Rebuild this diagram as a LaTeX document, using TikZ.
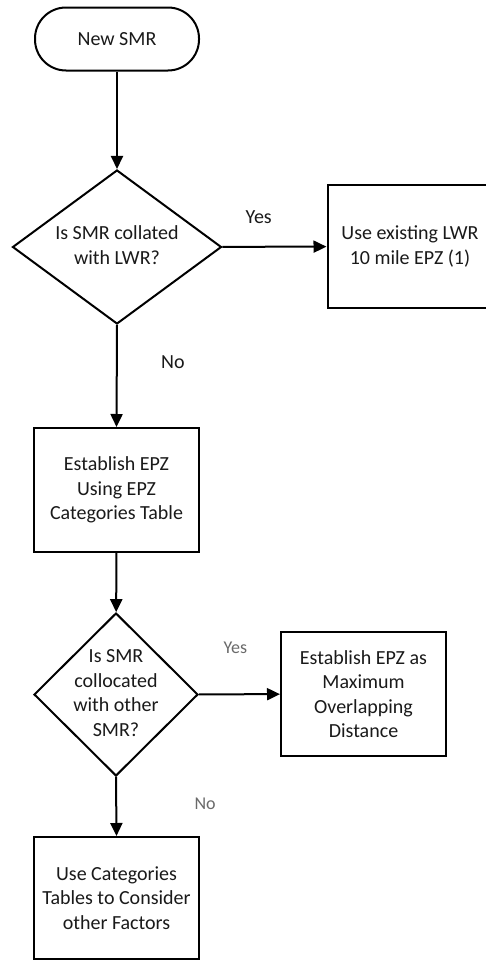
\documentclass[tikz,border=0pt]{standalone}
\usepackage{fontspec}
\setmainfont{Carlito}
\usetikzlibrary{shapes.geometric,arrows.meta}
\definecolor{txt}{HTML}{1A1A1A}
\definecolor{lbl}{HTML}{6A6A6A}
\begin{document}
\begin{tikzpicture}[x=1pt,y=-1pt,
  every node/.style={font=\fontsize{20}{24.5}\selectfont, text=txt},
  term/.style={draw, line width=2pt, rounded corners=31pt, minimum width=164pt, minimum height=63pt, inner sep=0pt},
  procbox/.style={draw, line width=2pt, minimum width=165pt, minimum height=124pt, inner sep=0pt, align=center},
  decide/.style={draw, diamond, line width=2pt, inner sep=0pt},
  txtnode/.style={align=center, inner sep=0pt},
  conn/.style={line width=2pt, -{Triangle[width=12pt,length=13pt]}},
  dark/.style={text=txt},
  light/.style={text=lbl}
]
\clip (0,0) rectangle (486,961);
\fill[white] (0,0) rectangle (486,961);

\node[term] (start) at (117,39) {New SMR};

\node[decide, minimum width=209pt, minimum height=154pt] (d1) at (117,247) {};
\node[txtnode] (d1t) at (117,245) {Is SMR collated\\with LWR?};

\node[procbox, minimum height=123pt] (b1) at (410,246.5) {Use existing LWR\\10 mile EPZ (1)};

\node[procbox] (b2) at (116.5,490) {Establish EPZ\\Using EPZ\\Categories Table};

\node[decide, minimum width=164pt, minimum height=163pt] (d2) at (116,694.5) {};
\node[txtnode] (d2t) at (116,693) {Is SMR\\collocated\\with other\\SMR?};

\node[procbox] (b3) at (363.5,694) {Establish EPZ as\\Maximum\\Overlapping\\Distance};

\node[procbox, minimum height=122pt] (b4) at (116.5,898) {Use Categories\\Tables to Consider\\other Factors};

\draw[conn] (start) -- (d1);
\draw[conn] (d1) -- node[pos=0.35, above=19pt, dark] (yes1) {Yes} (b1);
\draw[conn] (d1.south) -- node[pos=0.36, right=40pt, dark] (no1) {No} (b2.north);
\draw[conn] (b2) -- (d2);
\draw[conn] (d2) -- node[pos=0.45, above=36pt, light, font=\fontsize{18}{22}\selectfont] (yes2) {Yes} (b3);
\draw[conn] (d2.south) -- node[pos=0.45, right=74pt, light, font=\fontsize{18}{22}\selectfont] (no2) {No} (b4.north);
\end{tikzpicture}
\end{document}
